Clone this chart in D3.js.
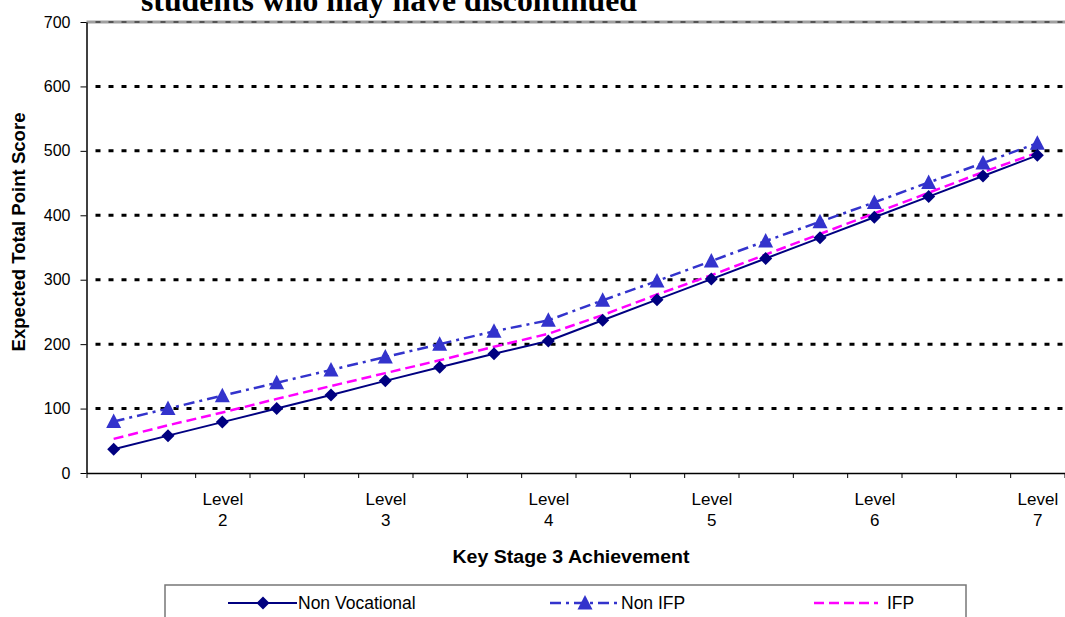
<!DOCTYPE html>
<html>
<head>
<meta charset="utf-8">
<script src="https://cdn.jsdelivr.net/npm/d3@7"></script>
<style>
  html, body { margin: 0; padding: 0; background: #fff; }
  svg { display: block; }
  text { font-family: Arial, "Liberation Sans", sans-serif; }
</style>
</head>
<body>
<svg id="chart" width="1065" height="617"></svg>
<script>
// ---- Data ----
const categoryLabels = ["", "", "Level 2", "", "", "Level 3", "", "", "Level 4", "", "", "Level 5", "", "", "Level 6", "", "", "Level 7"];
const nonVocational = [37, 58, 79, 100, 121, 143, 164, 185, 205, 237, 269, 301, 333, 365, 397, 429, 461, 493];
const nonIFP = [80, 100, 120, 140, 160, 180, 200, 220, 237, 268, 298, 329, 360, 390, 420, 451, 481, 512];
const ifp = [53, 74, 94, 115, 135, 155, 175, 196, 216, 245, 277, 307, 339, 371, 403, 435, 467, 497];
const yTicks = [0, 100, 200, 300, 400, 500, 600, 700];
const seriesNames = ["Non Vocational", "Non IFP", "IFP"];
const titleText = "students who may have discontinued";
const yTitle = "Expected Total Point Score";
const xTitle = "Key Stage 3 Achievement";

(function () {
// ---- Layout ----
const svg = d3.select("#chart");
const pLeft = 86.5, pRight = 1064.5, pTop = 22, pBottom = 473;
const n = categoryLabels.length;
const x = d3.scaleLinear().domain([0, n]).range([pLeft, pRight]);
const y = d3.scaleLinear().domain([0, 700]).range([pBottom, pTop]);

// Title (cut off at top, as in the reference)
svg.append("text")
  .attr("x", 141).attr("y", 11)
  .attr("textLength", 496).attr("lengthAdjust", "spacingAndGlyphs")
  .style("font-family", "'Liberation Serif', 'Times New Roman', serif")
  .style("font-weight", "bold").style("font-size", "31px")
  .text(titleText);

// Gridlines
svg.append("g").selectAll("line")
  .data(yTicks.filter(v => v > 0 && v < 700))
  .join("line")
  .attr("x1", pLeft + 1).attr("x2", pRight + 1)
  .attr("y1", d => y(d)).attr("y2", d => y(d))
  .attr("stroke", "#000").attr("stroke-width", 3)
  .attr("stroke-dasharray", "5,8").attr("stroke-dashoffset", -8);

// top border line at 700
svg.append("line")
  .attr("x1", pLeft).attr("x2", pRight + 1).attr("y1", y(700)).attr("y2", y(700))
  .attr("stroke", "#a0a0a0").attr("stroke-width", 3);
svg.append("line")
  .attr("x1", pLeft + 1).attr("x2", pRight + 1).attr("y1", y(700)).attr("y2", y(700))
  .attr("stroke", "#555").attr("stroke-width", 2)
  .attr("stroke-dasharray", "5,8").attr("stroke-dashoffset", -8);

// Y axis
const yAxis = svg.append("g")
  .attr("transform", `translate(${pLeft},0)`)
  .call(d3.axisLeft(y).tickValues(yTicks).tickSize(6).tickPadding(10).tickSizeOuter(0));
yAxis.select(".domain").attr("stroke", "#000").attr("stroke-width", 1.5);
yAxis.selectAll(".tick line").attr("stroke", "#000");
yAxis.selectAll(".tick text").style("font-size", "16px").attr("fill", "#000");

// X axis tick marks at band boundaries
const xAxis = svg.append("g")
  .attr("transform", `translate(0,${pBottom})`)
  .call(d3.axisBottom(x).tickValues(d3.range(0, n + 1)).tickSize(5).tickFormat(() => "").tickSizeOuter(0));
xAxis.select(".domain").attr("stroke", "#000").attr("stroke-width", 1.5);
xAxis.selectAll(".tick line").attr("stroke", "#000");

// X category labels
const xLab = svg.append("g")
  .attr("transform", `translate(0,${pBottom})`)
  .call(d3.axisBottom(x).tickValues(d3.range(0, n).map(i => i + 0.5)).tickSize(0).tickFormat(() => ""));
xLab.select(".domain").remove();
xLab.selectAll(".tick").each(function(d) {
  const lbl = categoryLabels[Math.floor(d)];
  const g = d3.select(this);
  g.selectAll("text").remove();
  if (!lbl) return;
  const parts = lbl.split(" ");
  const t = g.append("text").attr("fill", "#000").attr("text-anchor", "middle")
    .style("font-size", "17px");
  t.append("tspan").attr("x", 0).attr("y", 32).text(parts[0]);
  t.append("tspan").attr("x", 0).attr("y", 53).text(parts[1]);
});

// Axis titles
svg.append("text")
  .attr("transform", "translate(25,232) rotate(-90)")
  .attr("text-anchor", "middle")
  .attr("textLength", 239).attr("lengthAdjust", "spacingAndGlyphs")
  .style("font-weight", "bold").style("font-size", "18px")
  .text(yTitle);
svg.append("text")
  .attr("x", 571).attr("y", 563)
  .attr("text-anchor", "middle")
  .attr("textLength", 237).attr("lengthAdjust", "spacingAndGlyphs")
  .style("font-weight", "bold").style("font-size", "18px")
  .text(xTitle);

// Lines
const line = d3.line().x((d, i) => x(i + 0.5)).y(d => y(d));
const plot = svg.append("g");
plot.append("path").datum(ifp).attr("d", line)
  .attr("fill", "none").attr("stroke", "#FF00FF").attr("stroke-width", 2.5)
  .attr("stroke-dasharray", "10,5");
plot.append("path").datum(nonIFP).attr("d", line)
  .attr("fill", "none").attr("stroke", "#3333CC").attr("stroke-width", 2.5)
  .attr("stroke-dasharray", "11,5,3,5");
plot.append("path").datum(nonVocational).attr("d", line)
  .attr("fill", "none").attr("stroke", "#000080").attr("stroke-width", 2);

// Markers
const diamond = "M0,-6.5L6.5,0L0,6.5L-6.5,0Z";
const triangle = "M0,-7.5L7.5,7L-7.5,7Z";
plot.append("g").selectAll("path").data(nonIFP).join("path")
  .attr("d", triangle)
  .attr("transform", (d, i) => `translate(${x(i + 0.5)},${y(d) - 0.5})`)
  .attr("fill", "#3333CC");
plot.append("g").selectAll("path").data(nonVocational).join("path")
  .attr("d", diamond)
  .attr("transform", (d, i) => `translate(${x(i + 0.5)},${y(d)})`)
  .attr("fill", "#000080");

// Legend
const lg = svg.append("g");
lg.append("rect").attr("x", 165).attr("y", 585).attr("width", 801).attr("height", 60)
  .attr("fill", "#fff").attr("stroke", "#777").attr("stroke-width", 1.5);
const ly = 603;
lg.append("line").attr("x1", 228).attr("x2", 297).attr("y1", ly).attr("y2", ly)
  .attr("stroke", "#000080").attr("stroke-width", 2);
lg.append("path").attr("d", diamond).attr("transform", `translate(263,${ly})`).attr("fill", "#000080");
lg.append("line").attr("x1", 550).attr("x2", 617).attr("y1", ly).attr("y2", ly)
  .attr("stroke", "#3333CC").attr("stroke-width", 2.5).attr("stroke-dasharray", "11,5,3,5");
lg.append("path").attr("d", triangle).attr("transform", `translate(585,${ly - 0.5})`).attr("fill", "#3333CC");
lg.append("line").attr("x1", 814).attr("x2", 878).attr("y1", ly).attr("y2", ly)
  .attr("stroke", "#FF00FF").attr("stroke-width", 2.5).attr("stroke-dasharray", "10,5");
const lx = [298, 621, 887];
lg.selectAll("text.leg").data(seriesNames).join("text")
  .attr("class", "leg")
  .attr("x", (d, i) => lx[i]).attr("y", ly + 6)
  .style("font-size", "17.5px").attr("fill", "#000")
  .text(d => d);
})();
</script>
</body>
</html>
